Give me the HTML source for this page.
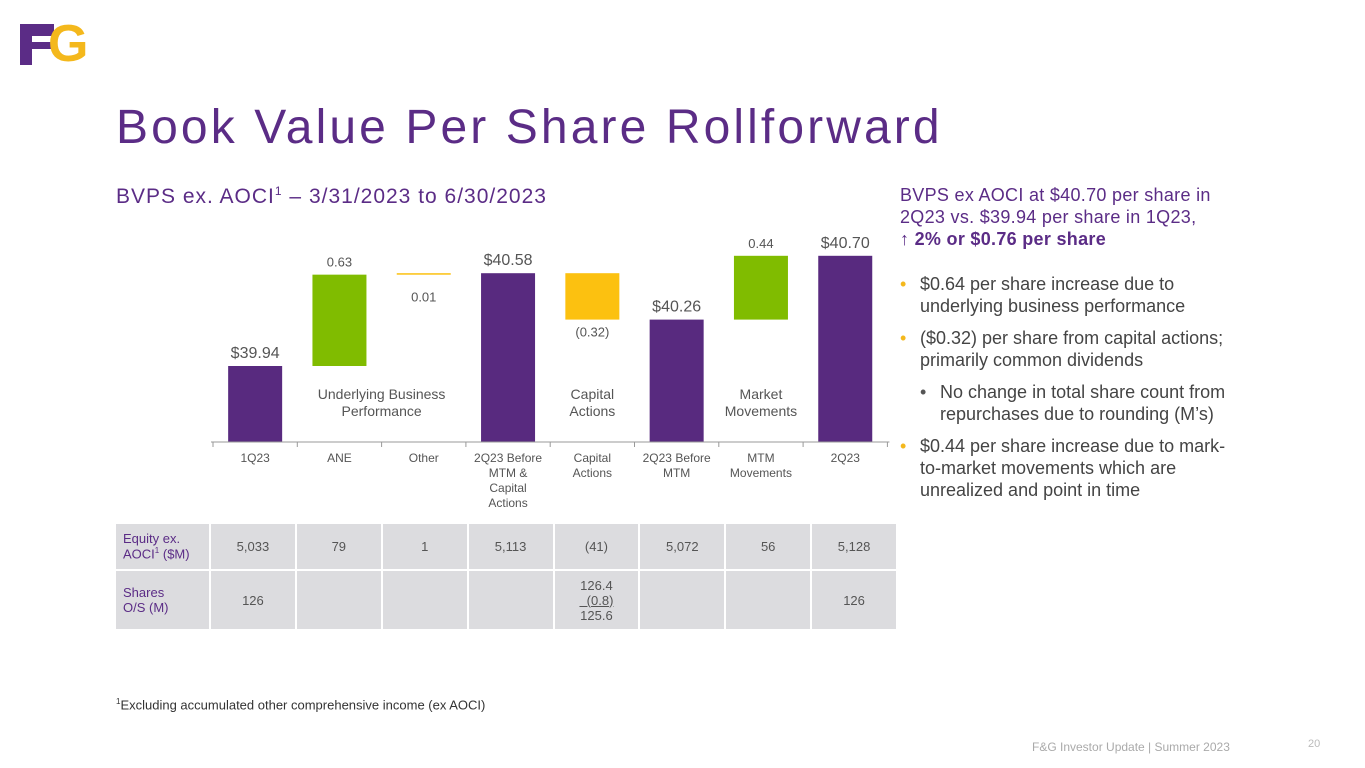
<!DOCTYPE html>
<html><head><meta charset="utf-8"><style>
body{margin:0;width:1365px;height:768px;background:#fff;font-family:"Liberation Sans",sans-serif;position:relative;overflow:hidden}
.a{position:absolute}
.purple{color:#5b2c86}
ul{margin:0;padding:0;list-style:none}
li{position:relative;padding-left:20px;margin-bottom:10px}
li:before{content:"•";position:absolute;left:0;color:#f4b81c}
li.sub{margin-left:20px}
li.sub:before{color:#555}
table{border-collapse:separate;border-spacing:2px;position:absolute;left:114px;top:522px;width:784px;font-size:13px;color:#555;table-layout:fixed}
td{background:#dcdcdf;text-align:center;height:45px;padding:0}
td.l{text-align:left;color:#5b2c86;width:86px;padding-left:7px}
</style></head><body>
<div class="a" style="left:20px;top:18px;width:70px;height:48px">
<div class="a" style="left:0;top:6px;width:34px;height:41px;background:#5b2c86"></div>
<div class="a" style="left:12px;top:18px;width:22px;height:6px;background:#fff"></div>
<div class="a" style="left:12px;top:31px;width:22px;height:16px;background:#fff"></div>
<div class="a" style="left:28px;top:-4px;font:bold 52px 'Liberation Sans',sans-serif;color:#f4b81c">G</div>
</div>
<div class="a purple" style="left:116px;top:100px;font-size:48px;letter-spacing:3.1px">Book Value Per Share Rollforward</div>
<div class="a purple" style="left:116px;top:184px;font-size:21px;letter-spacing:1px">BVPS ex. AOCI<sup style="font-size:12px">1</sup> – 3/31/2023 to 6/30/2023</div>
<svg class="a" style="left:0;top:0" width="900" height="520" id="chart"></svg>
<table>
<tr><td class="l">Equity ex.<br>AOCI<sup style="font-size:8px">1</sup> ($M)</td><td>5,033</td><td>79</td><td>1</td><td>5,113</td><td>(41)</td><td>5,072</td><td>56</td><td>5,128</td></tr>
<tr><td class="l" style="height:58px">Shares<br>O/S (M)</td><td>126</td><td></td><td></td><td></td><td>126.4<br><u>&nbsp;&nbsp;(0.8)</u><br>125.6</td><td></td><td></td><td>126</td></tr>
</table>
<div class="a" style="left:116px;top:697px;font-size:13px;color:#333"><sup style="font-size:8px">1</sup>Excluding accumulated other comprehensive income (ex AOCI)</div>
<div class="a" style="left:1032px;top:740px;font-size:12px;color:#aaa">F&amp;G Investor Update | Summer 2023</div>
<div class="a" style="left:1308px;top:738px;font-size:11px;color:#bbb">20</div>
<div class="a" style="left:900px;top:184px;width:360px;font-size:18px;line-height:22px;letter-spacing:0.3px;color:#5b2c86">BVPS ex AOCI at $40.70 per share in 2Q23 vs. $39.94 per share in 1Q23,<br><b>↑ 2% or $0.76 per share</b></div>
<ul class="a" style="left:900px;top:273px;width:345px;font-size:18px;line-height:22px;color:#444">
<li>$0.64 per share increase due to underlying business performance</li>
<li>($0.32) per share from capital actions; primarily common dividends</li>
<li class="sub">No change in total share count from repurchases due to rounding (M’s)</li>
<li>$0.44 per share increase due to mark-<br>to-market movements which are unrealized and point in time</li>
</ul>
<script>
const categories=["1Q23","ANE","Other","2Q23 Before|MTM &|Capital|Actions","Capital|Actions","2Q23 Before|MTM","MTM|Movements","2Q23"];
const kinds=["total","delta","delta","total","delta","total","delta","total"];
const values=[39.94,0.63,0.01,40.58,-0.32,40.26,0.44,40.70];
const valueLabels=["$39.94","0.63","0.01","$40.58","(0.32)","$40.26","0.44","$40.70"];
const groupLabels=[[1.5,"Underlying Business|Performance"],[4,"Capital|Actions"],[6,"Market|Movements"]];
const svg=document.getElementById('chart');const NS="http://www.w3.org/2000/svg";
const base=442,x0=213,cw=84.3,bw=54;
function y(v){return 366-(v-39.94)*145;}
function cx(i){return x0+cw*(i+0.5);}
function mk(t,a,txt){const e=document.createElementNS(NS,t);for(const k in a)e.setAttribute(k,a[k]);if(txt!=null)e.textContent=txt;svg.appendChild(e);return e;}
let run=0;
values.forEach((v,i)=>{
 let top,bot,fill;
 if(kinds[i]=="total"){run=v;top=y(v);bot=base;fill="#582a7f";}
 else{const s=run;run=Math.round((run+v)*100)/100;top=y(Math.max(s,run));bot=y(Math.min(s,run));fill=v<0||Math.abs(v)<0.05?"#fcc110":"#80bc00";}
 const h=Math.max(bot-top,1.5);
 const r=mk('rect',{x:cx(i)-bw/2,y:top,width:bw,height:h,fill:fill});
 
 
 const below=v<0||(kinds[i]=="delta"&&Math.abs(v)<0.05);
 const big=kinds[i]=="total";
 const t=mk('text',{x:cx(i),y:below?top+h+17+(h<3?10:0):top-8,'text-anchor':'middle','font-size':big?16:13,fill:'#555'},valueLabels[i]);
 
 
});
mk('line',{x1:x0-2,x2:x0+cw*8+2,y1:base,y2:base,stroke:'#999','stroke-width':1});
for(let i=0;i<=8;i++)mk('line',{x1:x0+cw*i,x2:x0+cw*i,y1:base,y2:base+5,stroke:'#999'});
categories.forEach((c,i)=>{c.split('|').forEach((s,j)=>{const t=mk('text',{x:cx(i),y:462+j*15,'text-anchor':'middle','font-size':12,fill:'#555'},s);
 
 });});
groupLabels.forEach(g=>{g[1].split('|').forEach((s,j)=>{const t=mk('text',{x:cx(g[0]),y:399+j*17,'text-anchor':'middle','font-size':14,fill:'#555'},s);
 
 });});
</script>
</body></html>
